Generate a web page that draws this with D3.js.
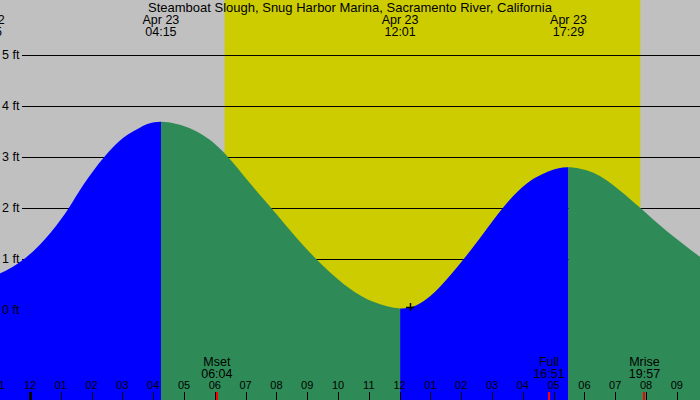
<!DOCTYPE html>
<html>
<head>
<meta charset="utf-8">
<script src="https://cdn.jsdelivr.net/npm/d3@7"></script>
<style>
  body { margin: 0; }
  text { font-family: "Liberation Sans", Arial, sans-serif; fill: #000; }
</style>
</head>
<body>
<script>
/* tide curve: hours from midnight Apr 23, feet */
var curveHours = [-1.42, -0.96, -0.15, 0.66, 1.26, 1.74, 2.41, 3.04, 3.58, 4.25,
                  5.31, 6.28, 7.15, 7.83, 8.45, 9.29, 10.29, 11.15, 12.02,
                  12.67, 13.32, 14.07, 14.72, 15.35, 16.13, 16.89, 17.48,
                  18.29, 19.10, 19.82, 20.67, 21.76];
var curveFeet  = [0.65, 0.72, 1.02, 1.51, 2.00, 2.46, 3.00, 3.38, 3.58, 3.69,
                  3.53, 3.10, 2.48, 2.00, 1.56, 1.00, 0.46, 0.16, 0.03,
                  0.13, 0.46, 0.99, 1.50, 2.00, 2.48, 2.73, 2.80,
                  2.69, 2.37, 2.00, 1.55, 1.04];

/* high / low tides */
var tideDays  = ["Apr 22", "Apr 23", "Apr 23", "Apr 23"];
var tideTimes = ["22:35", "04:15", "12:01", "17:29"];
var tideRising = [true, false, true, false];   // segment that starts at each event

/* moon */
var moonNames = ["Mset", "Full", "Mrise"];
var moonTimes = ["06:04", "16:51", "19:57"];

/* daylight */
var sunrise = "06:19";
var sunset  = "19:49";

var nowTime = "12:20";
var nowFeet = 0.06;

var feetTicks = [0, 1, 2, 3, 4, 5];

var title = "Steamboat Slough, Snug Harbor Marina, Sacramento River, California";

function hrs(t, day) {
  var p = t.split(":");
  var h = +p[0] + (+p[1]) / 60;
  if (day == "Apr 22") h -= 24;
  return h;
}

var W = 700, H = 400;
var x = d3.scaleLinear().domain([-30 / 30.8, 670 / 30.8]).range([0, W]);
var y = d3.scaleLinear().domain([0, 5]).range([310, 55]);

var svg = d3.select("body").append("svg")
            .attr("width", W)
            .attr("height", H);

svg.append("rect").attr("width", W).attr("height", H).attr("fill", "#c0c0c0");

/* daylight band */
svg.append("rect")
   .attr("x", x(hrs(sunrise)))
   .attr("y", 0)
   .attr("width", x(hrs(sunset)) - x(hrs(sunrise)))
   .attr("height", H)
   .attr("fill", "#cccc00");

/* grid lines */
svg.selectAll("line.grid")
   .data(feetTicks.filter(function(d) { return d > 0; }))
   .enter().append("line")
   .attr("class", "grid")
   .attr("x1", 22).attr("x2", W)
   .attr("y1", function(d) { return Math.round(y(d)) + 0.5; })
   .attr("y2", function(d) { return Math.round(y(d)) + 0.5; })
   .attr("stroke", "#000")
   .attr("stroke-width", 1);

/* water, split into rising (blue) and falling (green) parts */
var pts = curveHours.map(function(h, i) { return [h, curveFeet[i]]; });
var area = d3.area()
             .x(function(d) { return x(d[0]); })
             .y0(H)
             .y1(function(d) { return y(d[1]); })
             .curve(d3.curveNatural);

var eventHours = tideTimes.map(function(t, i) { return hrs(t, tideDays[i]); });
var defs = svg.append("defs");
eventHours.forEach(function(h, i) {
  var x0 = i == 0 ? 0 : x(h);
  var x1 = i < eventHours.length - 1 ? x(eventHours[i + 1]) : W;
  defs.append("clipPath").attr("id", "seg" + i)
      .append("rect")
      .attr("x", x0).attr("y", 0)
      .attr("width", x1 - x0).attr("height", H);
  svg.append("path")
     .datum(pts)
     .attr("d", area)
     .attr("clip-path", "url(#seg" + i + ")")
     .attr("fill", tideRising[i] ? "#0000ff" : "#2e8b57");
});

/* title */
svg.append("text")
   .attr("x", 350).attr("y", 12)
   .attr("text-anchor", "middle")
   .style("font-size", "13px")
   .text(title);

/* tide labels on top */
var tl = svg.selectAll("g.tide")
            .data(tideTimes)
            .enter().append("g")
            .attr("class", "tide")
            .attr("transform", function(d, i) { return "translate(" + x(eventHours[i]) + ",0)"; });
tl.append("text").attr("y", 24).attr("text-anchor", "middle")
  .style("font-size", "12.5px")
  .text(function(d, i) { return tideDays[i]; });
tl.append("text").attr("y", 36).attr("text-anchor", "middle")
  .style("font-size", "12.5px")
  .text(function(d) { return d; });

/* feet labels */
svg.selectAll("text.ft")
   .data(feetTicks)
   .enter().append("text")
   .attr("class", "ft")
   .attr("x", 2)
   .attr("y", function(d) { return y(d) + 4; })
   .style("font-size", "12.5px")
   .text(function(d) { return d + " ft"; });

/* hour ticks */
var hours = d3.range(-1, 22);
svg.selectAll("line.hr")
   .data(hours)
   .enter().append("line")
   .attr("class", "hr")
   .attr("x1", function(d) { return Math.round(x(d)) + 0.5; })
   .attr("x2", function(d) { return Math.round(x(d)) + 0.5; })
   .attr("y1", 392).attr("y2", H)
   .attr("stroke", "#000")
   .attr("stroke-width", function(d) { return d == 0 ? 3 : 1; });
svg.selectAll("text.hr")
   .data(hours)
   .enter().append("text")
   .attr("class", "hr")
   .attr("x", function(d) { return x(d); })
   .attr("y", 389)
   .attr("text-anchor", "middle")
   .style("font-size", "11px")
   .text(function(d) {
     var h = ((d % 12) + 12) % 12;
     if (h == 0) h = 12;
     return (h < 10 ? "0" : "") + h;
   });

/* moon events */
var moonHours = moonTimes.map(function(t) { return hrs(t); });
svg.selectAll("line.moon")
   .data(moonHours)
   .enter().append("line")
   .attr("class", "moon")
   .attr("x1", function(d) { return Math.round(x(d)); })
   .attr("x2", function(d) { return Math.round(x(d)); })
   .attr("y1", 392).attr("y2", H)
   .attr("stroke", "#ff0000")
   .attr("stroke-width", 2);
var ml = svg.selectAll("g.moon")
            .data(moonNames)
            .enter().append("g")
            .attr("class", "moon")
            .attr("transform", function(d, i) { return "translate(" + x(moonHours[i]) + ",0)"; });
ml.append("text").attr("y", 366).attr("text-anchor", "middle")
  .style("font-size", "12.5px")
  .text(function(d) { return d; });
ml.append("text").attr("y", 378).attr("text-anchor", "middle")
  .style("font-size", "12.5px")
  .text(function(d, i) { return moonTimes[i]; });

/* current time marker */
var nx = Math.round(x(hrs(nowTime))), ny = Math.round(y(nowFeet));
svg.append("path")
   .attr("d", "M" + (nx - 4) + "," + (ny + 0.5) + "h8M" + (nx + 0.5) + "," + (ny - 4) + "v8")
   .attr("stroke", "#000")
   .attr("stroke-width", 1.5)
   .attr("fill", "none");
</script>
</body>
</html>
